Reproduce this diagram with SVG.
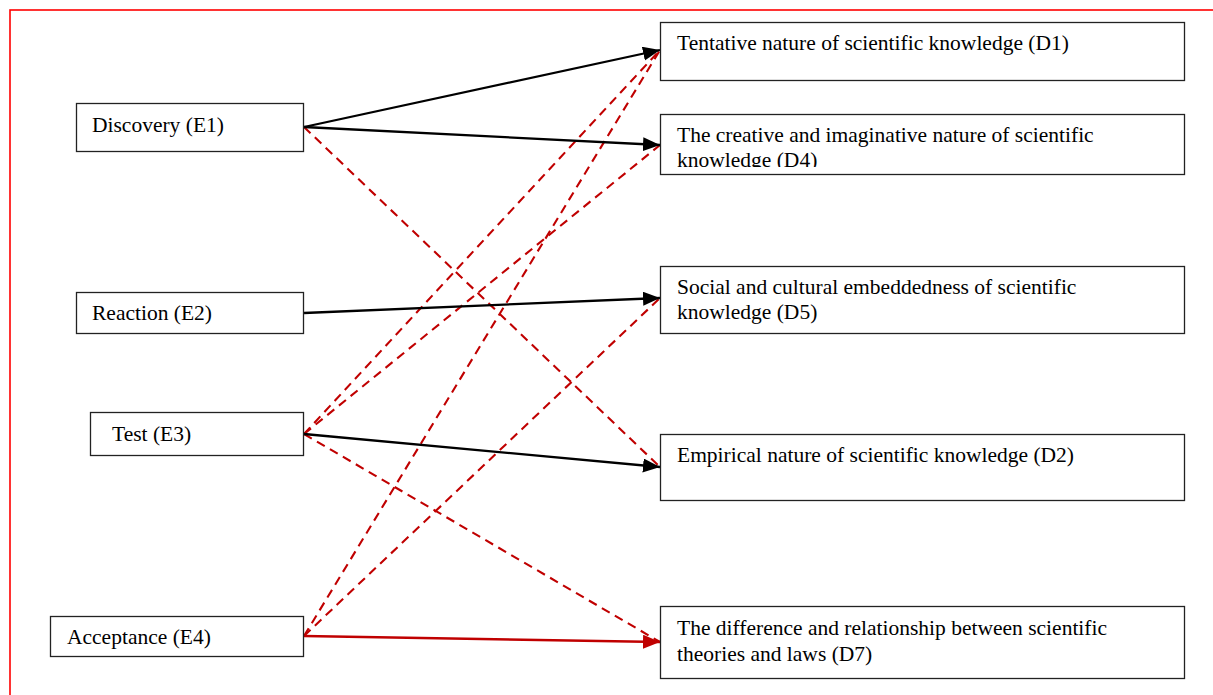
<svg xmlns="http://www.w3.org/2000/svg" width="1213" height="695" viewBox="0 0 1213 695">
<style>
.box{fill:#fff;stroke:#222;stroke-width:1.3}
.t{font-family:"Liberation Serif","Times New Roman",serif;font-size:21.5px;fill:#000}
.blk{stroke:#000;stroke-width:2.3;fill:none}
.red{stroke:#c00000;stroke-width:2.6;fill:none}
.dash{stroke:#c00000;stroke-width:2.1;fill:none;stroke-dasharray:9 6}
</style>
<defs>
<marker id="ab" markerUnits="userSpaceOnUse" markerWidth="19" markerHeight="15" refX="17" refY="7" orient="auto"><path d="M0,0 L17,7 L0,14 z" fill="#000"/></marker>
<marker id="ar" markerUnits="userSpaceOnUse" markerWidth="19" markerHeight="15" refX="17" refY="7" orient="auto"><path d="M0,0 L17,7 L0,14 z" fill="#c00000"/></marker>
<clipPath id="cD4"><rect x="660" y="114" width="524" height="53"/></clipPath>
</defs>
<rect x="10" y="10" width="1220" height="700" fill="none" stroke="#ff0000" stroke-width="1.6"/>
<g id="connectors">
<line class="dash" x1="304" y1="127" x2="660" y2="467"/>
<line class="dash" x1="304" y1="434" x2="660" y2="50"/>
<line class="dash" x1="304" y1="434" x2="660" y2="145"/>
<line class="dash" x1="304" y1="434" x2="660" y2="642"/>
<line class="dash" x1="304" y1="636" x2="660" y2="50"/>
<line class="dash" x1="304" y1="636" x2="660" y2="298"/>
<line class="blk" x1="304" y1="127" x2="660" y2="50" marker-end="url(#ab)"/>
<line class="blk" x1="304" y1="127" x2="660" y2="145" marker-end="url(#ab)"/>
<line class="blk" x1="304" y1="313" x2="660" y2="298" marker-end="url(#ab)"/>
<line class="blk" x1="304" y1="434" x2="660" y2="467" marker-end="url(#ab)"/>
<line class="red" x1="304" y1="636" x2="660" y2="642" marker-end="url(#ar)"/>
</g>
<g id="E1"><rect class="box" x="76.5" y="103.5" width="227" height="48"/><text class="t" x="92" y="132">Discovery (E1)</text></g>
<g id="E2"><rect class="box" x="76.5" y="292.5" width="227" height="41"/><text class="t" x="92" y="320">Reaction (E2)</text></g>
<g id="E3"><rect class="box" x="90.5" y="412.5" width="213" height="43"/><text class="t" x="112" y="441">Test (E3)</text></g>
<g id="E4"><rect class="box" x="50.5" y="616.5" width="253" height="40"/><text class="t" x="67" y="644">Acceptance (E4)</text></g>
<g id="D1"><rect class="box" x="660.5" y="22.5" width="524" height="58"/><text class="t" x="677" y="50">Tentative nature of scientific knowledge (D1)</text></g>
<g id="D4"><rect class="box" x="660.5" y="114.5" width="524" height="60"/><text class="t" x="677" y="142">The creative and imaginative nature of scientific</text><text class="t" x="677" y="167" clip-path="url(#cD4)">knowledge (D4)</text></g>
<g id="D5"><rect class="box" x="660.5" y="266.5" width="524" height="67"/><text class="t" x="677" y="294">Social and cultural embeddedness of scientific</text><text class="t" x="677" y="319">knowledge (D5)</text></g>
<g id="D2"><rect class="box" x="660.5" y="434.5" width="524" height="66"/><text class="t" x="677" y="462">Empirical nature of scientific knowledge (D2)</text></g>
<g id="D7"><rect class="box" x="660.5" y="606.5" width="524" height="72"/><text class="t" x="677" y="635">The difference and relationship between scientific</text><text class="t" x="677" y="661">theories and laws (D7)</text></g>
</svg>
